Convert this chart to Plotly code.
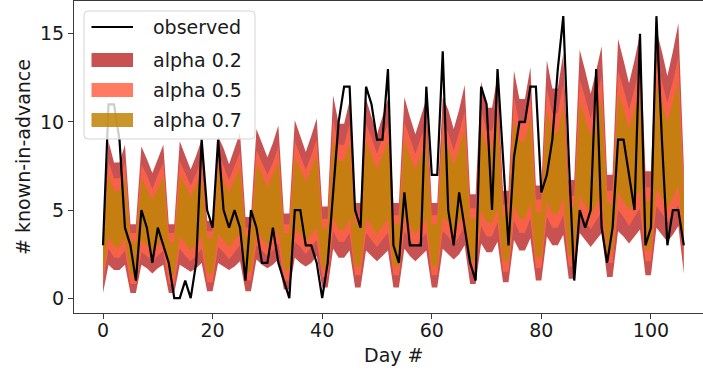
import plotly.graph_objects as go

days = list(range(107))

observed = [3, 11, 11, 9, 4, 3, 1, 5, 4, 2, 4, 3, 2, 0, 0, 1, 0, 2, 9, 5,
            4, 9, 5, 4, 5, 4, 1, 5, 4, 2, 2, 4, 2, 1, 0, 5, 5, 3, 3, 2,
            0, 2, 6, 10, 12, 12, 5, 4, 12, 11, 9, 9, 13, 3, 2, 6, 3, 3, 3, 12,
            7, 7, 14, 5, 3, 6, 4, 2, 1, 12, 11, 5, 13, 8, 3, 8, 10, 10, 12, 12,
            6, 7, 9, 13, 16, 8, 1, 5, 4, 5, 13, 4, 2, 4, 9, 9, 7, 5, 15, 3,
            4, 16, 9, 3, 5, 5, 3]

# interval bounds per day: widest (alpha 0.2) to narrowest (alpha 0.7)
hi_02 = [4.3, 8.9, 7.7, 7.7, 8.7, 4.2, 4.2,
         8.6, 7.9, 7.1, 7.9, 8.7, 4.2, 4.2,
         8.9, 8.1, 7.3, 8.1, 9.0, 4.4, 4.4,
         9.2, 8.5, 7.6, 8.5, 9.4, 4.6, 4.6,
         9.6, 8.8, 8.0, 8.8, 9.8, 4.8, 4.8,
         10.1, 9.2, 8.3, 9.2, 10.2, 5.2, 5.2,
         11.5, 9.9, 9.9, 11.2, 5.4, 5.4, 11.3,
         10.3, 9.3, 10.3, 11.3, 5.4, 5.4, 11.4,
         10.3, 9.3, 10.3, 11.3, 5.4, 5.4, 11.4,
         10.7, 9.6, 10.7, 12.1, 5.9, 5.9, 12.3,
         10.8, 10.8, 12.6, 6.1, 6.1, 12.9, 11.3,
         11.3, 13.1, 6.4, 6.4, 13.5, 11.9, 11.9,
         13.9, 6.7, 6.7, 14.1, 12.9, 11.6, 12.9,
         14.3, 7.0, 7.0, 14.7, 13.5, 12.2, 13.5,
         15.0, 7.2, 7.2, 15.2, 14.0, 12.6, 14.0,
         15.6, 7.5]
hi_05 = [3.7, 7.8, 6.8, 6.8, 7.7, 3.7, 3.7,
         7.6, 7.0, 6.2, 7.0, 7.7, 3.7, 3.7,
         7.8, 7.1, 6.4, 7.1, 7.9, 3.8, 3.8,
         8.1, 7.5, 6.7, 7.5, 8.3, 4.0, 4.0,
         8.4, 7.7, 7.0, 7.7, 8.6, 4.2, 4.2,
         8.9, 8.1, 7.3, 8.1, 9.0, 4.5, 4.5,
         10.1, 8.7, 8.7, 9.9, 4.7, 4.7, 9.9,
         9.1, 8.2, 9.1, 9.9, 4.7, 4.7, 10.0,
         9.1, 8.2, 9.1, 9.9, 4.7, 4.7, 10.0,
         9.4, 8.4, 9.4, 10.6, 5.1, 5.1, 10.8,
         9.5, 9.5, 11.1, 5.3, 5.3, 11.4, 9.9,
         9.9, 11.5, 5.6, 5.6, 11.9, 10.5, 10.5,
         12.2, 5.8, 5.8, 12.4, 11.4, 10.2, 11.4,
         12.6, 6.1, 6.1, 12.9, 11.9, 10.7, 11.9,
         13.2, 6.3, 6.3, 13.4, 12.3, 11.1, 12.3,
         13.7, 6.5]
hi_07 = [3.3, 7.0, 6.1, 6.1, 6.9, 3.2, 3.2,
         6.8, 6.2, 5.6, 6.2, 6.9, 3.2, 3.2,
         7.0, 6.4, 5.8, 6.4, 7.1, 3.4, 3.4,
         7.3, 6.7, 6.0, 6.7, 7.4, 3.5, 3.5,
         7.6, 7.0, 6.3, 7.0, 7.7, 3.7, 3.7,
         8.0, 7.3, 6.6, 7.3, 8.1, 4.0, 4.0,
         9.1, 7.8, 7.8, 8.8, 4.2, 4.2, 8.9,
         8.1, 7.3, 8.1, 8.9, 4.2, 4.2, 9.0,
         8.1, 7.3, 8.1, 8.9, 4.2, 4.2, 9.0,
         8.5, 7.6, 8.5, 9.6, 4.5, 4.5, 9.7,
         8.5, 8.5, 10.0, 4.7, 4.7, 10.2, 8.9,
         8.9, 10.3, 4.9, 4.9, 10.7, 9.4, 9.4,
         11.0, 5.2, 5.2, 11.1, 10.2, 9.2, 10.2,
         11.3, 5.4, 5.4, 11.6, 10.7, 9.6, 10.7,
         11.9, 5.5, 5.5, 12.0, 11.1, 10.0, 11.1,
         12.3, 5.8]
lo_07 = [1.4, 3.5, 2.9, 2.9, 3.4, 1.3, 1.3,
         3.3, 3.0, 2.6, 3.0, 3.4, 1.3, 1.3,
         3.5, 3.1, 2.7, 3.1, 3.5, 1.4, 1.4,
         3.6, 3.3, 2.9, 3.3, 3.7, 1.5, 1.5,
         3.8, 3.4, 3.0, 3.4, 3.9, 1.6, 1.6,
         4.0, 3.6, 3.2, 3.6, 4.0, 1.7, 1.7,
         4.6, 3.9, 3.9, 4.5, 1.8, 1.8, 4.5,
         4.1, 3.6, 4.1, 4.5, 1.8, 1.8, 4.6,
         4.1, 3.6, 4.1, 4.5, 1.8, 1.8, 4.6,
         4.3, 3.8, 4.3, 4.9, 2.1, 2.1, 5.0,
         4.3, 4.3, 5.1, 2.1, 2.1, 5.3, 4.5,
         4.5, 5.4, 2.3, 2.3, 5.5, 4.8, 4.8,
         5.7, 2.4, 2.4, 5.8, 5.3, 4.7, 5.3,
         5.9, 2.6, 2.6, 6.0, 5.5, 5.0, 5.5,
         6.2, 2.7, 2.7, 6.2, 5.7, 5.1, 5.7,
         6.4, 2.9]
lo_05 = [0.9, 2.8, 2.3, 2.3, 2.7, 0.8, 0.8,
         2.6, 2.4, 2.1, 2.4, 2.7, 0.8, 0.8,
         2.8, 2.4, 2.1, 2.4, 2.8, 0.9, 0.9,
         2.9, 2.6, 2.2, 2.6, 3.0, 1.0, 1.0,
         3.0, 2.7, 2.4, 2.7, 3.1, 1.0, 1.0,
         3.2, 2.9, 2.5, 2.9, 3.3, 1.2, 1.2,
         3.8, 3.2, 3.2, 3.7, 1.3, 1.3, 3.7,
         3.3, 2.9, 3.3, 3.7, 1.3, 1.3, 3.8,
         3.3, 2.9, 3.3, 3.7, 1.3, 1.3, 3.8,
         3.5, 3.0, 3.5, 4.1, 1.5, 1.5, 4.1,
         3.5, 3.5, 4.3, 1.5, 1.5, 4.4, 3.7,
         3.7, 4.5, 1.7, 1.7, 4.6, 4.0, 4.0,
         4.7, 1.8, 1.8, 4.8, 4.4, 3.9, 4.4,
         4.9, 2.0, 2.0, 5.0, 4.6, 4.1, 4.6,
         5.1, 2.1, 2.1, 5.2, 4.8, 4.3, 4.8,
         5.3, 2.2]
lo_02 = [0.3, 1.9, 1.6, 1.6, 1.9, 0.3, 0.3,
         1.9, 1.7, 1.4, 1.7, 1.9, 0.3, 0.3,
         1.9, 1.7, 1.5, 1.7, 2.0, 0.4, 0.4,
         2.0, 1.8, 1.6, 1.8, 2.1, 0.4, 0.4,
         2.2, 1.9, 1.7, 1.9, 2.2, 0.5, 0.5,
         2.3, 2.0, 1.8, 2.0, 2.4, 0.6, 0.6,
         2.8, 2.3, 2.3, 2.7, 0.6, 0.6, 2.7,
         2.4, 2.1, 2.4, 2.7, 0.6, 0.6, 2.8,
         2.4, 2.1, 2.4, 2.7, 0.6, 0.6, 2.8,
         2.5, 2.2, 2.5, 3.0, 0.8, 0.8, 3.1,
         2.6, 2.6, 3.2, 0.9, 0.9, 3.3, 2.7,
         2.7, 3.4, 1.0, 1.0, 3.5, 3.0, 3.0,
         3.6, 1.1, 1.1, 3.7, 3.3, 2.9, 3.3,
         3.7, 1.2, 1.2, 3.8, 3.5, 3.1, 3.5,
         3.9, 1.3, 1.3, 4.0, 3.6, 3.2, 3.6,
         4.1, 1.4]

bands = [
    ("alpha 0.2", lo_02, hi_02, "rgba(190, 50, 50, 0.85)"),
    ("alpha 0.5", lo_05, hi_05, "rgba(255, 100, 70, 0.85)"),
    ("alpha 0.7", lo_07, hi_07, "rgba(190, 132, 8, 0.85)"),
]

FONT = "DejaVu Sans"
TEXT = "#1a1a1a"
W, H = 703, 372
M_L, M_T, M_B = 74, 1, 59
PLOT_W, PLOT_H = W - M_L, H - M_T - M_B


def px(x):
    return (x - M_L) / PLOT_W


def py(y):
    return (H - M_B - y) / PLOT_H


fig = go.Figure()

for name, lo, hi, color in bands:
    fig.add_trace(go.Scatter(
        x=days + days[::-1], y=hi + lo[::-1],
        fill="toself", fillcolor=color, mode="none",
        name=name, hoverinfo="skip",
    ))

fig.add_trace(go.Scatter(
    x=days, y=observed, mode="lines", name="observed",
    line=dict(color="black", width=2.2),
))

# legend box, drawn by hand so the patches and spacing can be sized
lx0, lx1, ly0, ly1, r = 84, 255, 11, 139, 4
box_path = (
    f"M {px(lx0 + r)},{py(ly0)} L {px(lx1 - r)},{py(ly0)} "
    f"Q {px(lx1)},{py(ly0)} {px(lx1)},{py(ly0 + r)} "
    f"L {px(lx1)},{py(ly1 - r)} Q {px(lx1)},{py(ly1)} {px(lx1 - r)},{py(ly1)} "
    f"L {px(lx0 + r)},{py(ly1)} Q {px(lx0)},{py(ly1)} {px(lx0)},{py(ly1 - r)} "
    f"L {px(lx0)},{py(ly0 + r)} Q {px(lx0)},{py(ly0)} {px(lx0 + r)},{py(ly0)} Z"
)
shapes = [dict(type="path", path=box_path, xref="paper", yref="paper",
               fillcolor="rgba(255,255,255,0.8)",
               line=dict(color="#d4d4d4", width=1), layer="above")]

rows = [27, 60, 90, 120]
sx0, sx1 = 91.5, 133
shapes.append(dict(type="line", xref="paper", yref="paper",
                   x0=px(sx0), x1=px(sx1), y0=py(rows[0]), y1=py(rows[0]),
                   line=dict(color="black", width=2.2), layer="above"))
for (name, _, _, color), yc in zip(bands, rows[1:]):
    shapes.append(dict(type="rect", xref="paper", yref="paper",
                       x0=px(sx0), x1=px(sx1), y0=py(yc - 7), y1=py(yc + 7),
                       fillcolor=color, line=dict(width=0), layer="above"))

labels = ["observed"] + [b[0] for b in bands]
annotations = [dict(text=t, x=px(151), y=py(yc), xref="paper", yref="paper",
                    xanchor="left", yanchor="middle", showarrow=False,
                    font=dict(family=FONT, size=19, color=TEXT))
               for t, yc in zip(labels, rows)]
annotations.append(dict(text="Day #", x=px(393), y=py(355), xref="paper", yref="paper",
                        xanchor="center", yanchor="middle", showarrow=False,
                        font=dict(family=FONT, size=19, color=TEXT)))

axis_common = dict(
    showgrid=False, zeroline=False, showline=True, linecolor="#3a3a3a",
    linewidth=1, ticks="outside", ticklen=5, tickwidth=1, tickcolor="#3a3a3a",
    tickfont=dict(family=FONT, size=19, color=TEXT),
)

fig.update_layout(
    width=W, height=H,
    margin=dict(l=M_L, r=0, t=M_T, b=M_B),
    paper_bgcolor="white", plot_bgcolor="white",
    font=dict(family=FONT, size=19, color=TEXT),
    xaxis=dict(range=[-5.3, 109.5], tickvals=[0, 20, 40, 60, 80, 100],
               mirror=True, ticklabelstandoff=-5, **axis_common),
    yaxis=dict(range=[-0.84, 16.86], tickvals=[0, 5, 10, 15],
               title=dict(text="# known-in-advance", standoff=4,
                          font=dict(family=FONT, size=19)),
               **axis_common),
    showlegend=False,
    shapes=shapes,
    annotations=annotations,
)

fig.write_html("out.html")
